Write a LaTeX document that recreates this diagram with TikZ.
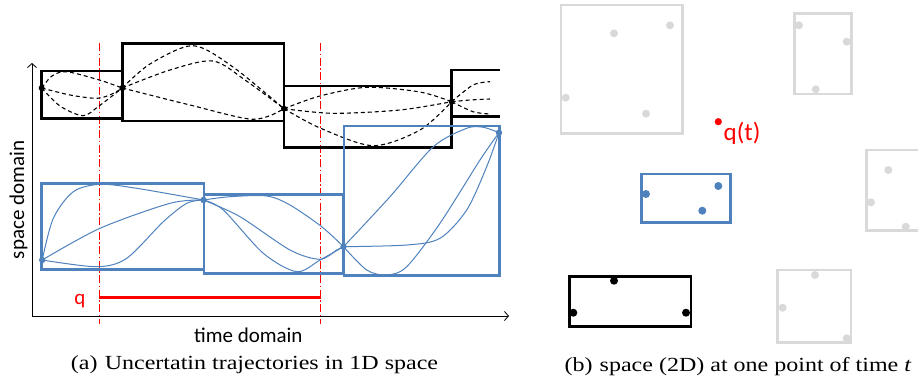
\documentclass[tikz,border=0pt]{standalone}
\usepackage{fontspec}
\setmainfont{Liberation Serif}
\newfontfamily\calibri{Carlito}
\usetikzlibrary{arrows.meta}
\definecolor{obl}{HTML}{4F81BD}
\definecolor{lg}{HTML}{D9D9D9}
\begin{document}
\begin{tikzpicture}[x=1pt,y=-1pt,
  bbox/.style={line width=2.7pt, line join=miter},
  blackbox/.style={bbox, draw=black},
  bluebox/.style={bbox, draw=obl},
  graybox/.style={bbox, draw=lg},
  dtraj/.style={draw=black, line width=1.1pt, dash pattern=on 4pt off 3pt},
  btraj/.style={draw=obl, line width=1pt},
  reddd/.style={draw=red, line width=1pt, dash pattern=on 8pt off 2.5pt on 1.5pt off 2.5pt},
  axis/.style={draw=black, line width=0.8pt, -{Straight Barb[length=4pt,width=9pt]}},
  lbl/.style={font=\calibri\fontsize{21}{23}\selectfont, inner sep=0pt},
  qlbl/.style={font=\calibri\fontsize{25}{27}\selectfont, inner sep=0pt, text=red},
  captxt/.style={font=\fontsize{20}{22}\selectfont, inner sep=0pt},
  bdot/.style={fill=black},
  udot/.style={fill=obl},
  gdot/.style={fill=lg}]
\useasboundingbox (0,0) rectangle (918,383);

% ---------- left panel: axes ----------
\coordinate (O) at (32,316);
\coordinate (Ytop) at (32,63);
\coordinate (Xend) at (509,316);
\draw[axis] (O) -- (Ytop);
\draw[axis] (O) -- (Xend);
\node[lbl, rotate=90] (ylab) at (18.5,200) {space domain};
\node[lbl] (xlab) at (248.3,335) {time domain};

% red query lines
\coordinate (R1t) at (99.3,43);  \coordinate (R1b) at (99.3,324);
\coordinate (R2t) at (320.7,43); \coordinate (R2b) at (320.7,324);
\draw[reddd] (R1t) -- (R1b);
\draw[reddd] (R2t) -- (R2b);
\coordinate (Q1) at (99.3,297.3); \coordinate (Q2) at (320.7,297.3);
\draw[red, line width=2.6pt] (Q1) -- (Q2);
\node[lbl, text=red] (qlab) at (80,301) {q};

% ---------- black (dashed) trajectories ----------
\coordinate (A1) at (41.7,88);
\coordinate (A2) at (122.3,88);
\coordinate (A3) at (284,108.7);
\coordinate (A4) at (451.7,101.7);
\coordinate (E1) at (490,81.7);
\coordinate (E2) at (490,99);
\coordinate (E3) at (490,114);
\draw[dtraj] plot[smooth] coordinates {(A1) (52,76) (66.7,71.7) (99.3,80) (A2)};
\draw[dtraj] plot[smooth] coordinates {(A1) (70,95) (97,98.3) (112,94) (A2)};
\draw[dtraj] plot[smooth] coordinates {(A1) (60,106) (83,115.7) (99,106) (A2)};
\draw[dtraj] plot[smooth] coordinates {(A2) (150,64) (193,45.7) (233,67) (A3)};
\draw[dtraj] plot[smooth] coordinates {(A2) (170,70) (213,61) (245,80) (A3)};
\draw[dtraj] plot[smooth] coordinates {(A2) (190,105) (253,119.3) (A3)};
\draw[dtraj] plot[smooth] coordinates {(A3) (320,96) (367,87.3) (420,92) (A4)};
\draw[dtraj] plot[smooth] coordinates {(A3) (333,113.3) (400,110) (A4)};
\draw[dtraj] plot[smooth] coordinates {(A3) (320,128) (373,145.7) (420,130) (A4)};
\draw[dtraj] plot[smooth] coordinates {(A4) (473,85) (E1)};
\draw[dtraj] plot[smooth] coordinates {(A4) (470,100) (E2)};
\draw[dtraj] plot[smooth] coordinates {(A4) (473,111.7) (E3)};

\draw[blackbox] (41.7,71) rectangle (122.3,118.3);
\draw[blackbox] (122.3,43.3) rectangle (284,121);
\draw[blackbox] (284,86) rectangle (451.7,147.3);
\draw[blackbox] (500,70) -- (451.7,70) -- (451.7,116.7) -- (500,116.7);
\foreach \p in {A1,A2,A3,A4} \fill[bdot] (\p) circle (3pt);

% ---------- blue trajectories ----------
\coordinate (B1) at (42.2,260);
\coordinate (B2) at (203.5,200);
\coordinate (B3) at (343.5,246.7);
\coordinate (B4) at (499,132.7);
\draw[btraj] plot[smooth] coordinates {(B1) (53.3,218.3) (73.3,191.7) (100,184.3) (136.7,188.3) (B2)};
\draw[btraj] plot[smooth] coordinates {(B1) (100,228.3) (170,203.3) (B2)};
\draw[btraj] plot[smooth] coordinates {(B1) (96.7,266.7) (126.7,258.3) (163.3,221.7) (186.7,203.3) (B2)};
\draw[btraj] plot[smooth] coordinates {(B2) (230,196.7) (266.7,196) (290,205) (321.7,226.7) (B3)};
\draw[btraj] plot[smooth] coordinates {(B2) (240,216.7) (290,250) (320,259.3) (336.7,250) (B3)};
\draw[btraj] plot[smooth] coordinates {(B2) (223.3,210) (263.3,253.3) (296.7,271.7) (320,260) (B3)};
\draw[btraj] plot[smooth] coordinates {(B3) (390,196.7) (433.3,146.7) (466.7,128.3) (483.3,127.3) (B4)};
\draw[btraj] plot[smooth] coordinates {(B3) (406.7,245) (440,238.3) (466.7,210) (486.7,166.7) (B4)};
\draw[btraj] plot[smooth] coordinates {(B3) (366.7,270) (386.7,275) (406.7,266.7) (440,223.3) (480,160) (B4)};

\draw[bluebox] (41.7,183.3) rectangle (204,269.3);
\draw[bluebox] (204,194.3) rectangle (343.3,273.3);
\draw[bluebox] (344,126) rectangle (499.3,275.5);
\foreach \p in {B1,B2,B3,B4} \fill[udot] (\p) circle (3.2pt);

% ---------- captions ----------
\node[captxt] (capa) at (254.5,365) {\scalebox{1.2}[1]{(a)\hspace{6pt}Uncertatin trajectories in 1D space}};
\node[captxt] (capb) at (738,366.5) {\scalebox{1.2}[1]{(b)\hspace{6pt}space (2D) at one point of time \textit{t}}};

% ---------- right panel ----------
\draw[graybox] (561,5) rectangle (682.7,133.3);
\foreach \x/\y in {614/33.3, 670/25.3, 565.7/97.7, 646/113.7} \fill[gdot] (\x,\y) circle (4pt);
\draw[graybox] (794.3,13.3) rectangle (851.7,94);
\foreach \x/\y in {799/25.3, 846.7/41.7, 815.7/89.3} \fill[gdot] (\x,\y) circle (4pt);
\draw[graybox] (920,150) -- (866.7,150) -- (866.7,230.7) -- (920,230.7);
\foreach \x/\y in {888.3/170, 871/202.3, 905.7/226.7} \fill[gdot] (\x,\y) circle (4pt);
\draw[graybox] (777.7,270) rectangle (851,342.7);
\foreach \x/\y in {815/275, 782.7/307.7, 846.7/338.3} \fill[gdot] (\x,\y) circle (4pt);

\draw[bluebox] (641.7,174) rectangle (730.7,222.3);
\foreach \x/\y in {646/194, 718.3/186, 702.3/210.7} \fill[udot] (\x,\y) circle (4pt);

\draw[blackbox] (569.3,276.7) rectangle (691,326.7);
\foreach \x/\y in {614/280.7, 573.3/312.7, 686/312.7} \fill[bdot] (\x,\y) circle (4pt);

\coordinate (qt) at (718.3,121.7);
\fill[red] (qt) circle (3.6pt);
\node[qlbl, anchor=west] (qtlab) at (723.5,133) {q(t)};
\end{tikzpicture}
\end{document}
